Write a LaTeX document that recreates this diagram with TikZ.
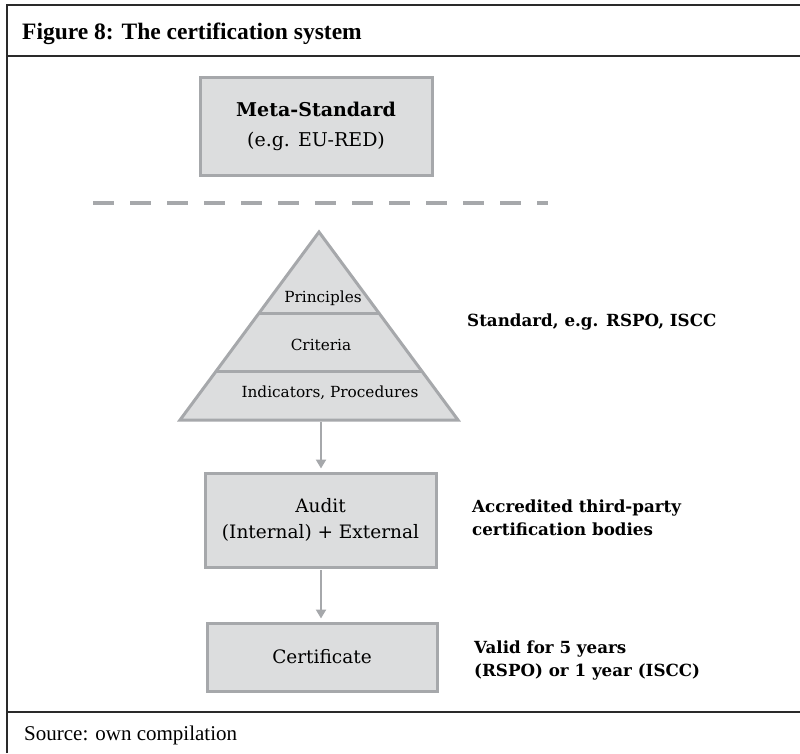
\documentclass[tikz,border=0pt]{standalone}
\usepackage{fontspec}
\setmainfont{DejaVu Serif}
\newfontfamily\timesf{Liberation Serif}
\usetikzlibrary{arrows.meta}
\definecolor{boxfill}{HTML}{DCDDDE}
\definecolor{boxline}{HTML}{A6A8AB}
\definecolor{frame}{HTML}{2A2A2A}
\tikzset{
  frameline/.style={draw=frame, line width=1.5pt},
  greybox/.style={draw=boxline, fill=boxfill, line width=3pt, align=center, inner sep=0pt},
  arr/.style={draw=boxline, line width=2.5pt, -{Triangle[length=9pt,width=10pt]}},
  lbl/.style={font=\fontsize{16.7}{23}\selectfont\bfseries, align=left, anchor=west, inner sep=0pt},
  pyr/.style={font=\fontsize{15.3}{18}\selectfont, inner sep=0pt},
}
\begin{document}
\begin{tikzpicture}[x=1pt,y=-1pt]
\useasboundingbox (0,0) rectangle (800,753);
% frame
\draw[frameline] (7,753) -- (7,5) -- (800,5);
\draw[frameline] (7,56) -- (800,56);
\draw[frameline] (7,712) -- (800,712);
\node[anchor=base west, inner sep=0pt, font=\timesf\fontsize{23.5}{26}\selectfont\bfseries] (title) at (22,39) {Figure 8: The certification system};
\node[anchor=base west, inner sep=0pt, font=\timesf\fontsize{21}{24}\selectfont] (source) at (24,740) {Source: own compilation};
% meta standard
\node[greybox, minimum width=232pt, minimum height=98pt, font=\fontsize{19}{30}\selectfont] (meta) at (316,126) {{\bfseries Meta-Standard}\\(e.g. EU-RED)};
% dashed line
\coordinate (dl) at (93,203);
\coordinate (dr) at (548,203);
\draw[draw=boxline, line width=4pt, dash pattern=on 21pt off 16pt] (dl) -- (dr);
% pyramid
\coordinate (apex) at (319,232);
\coordinate (bl) at (180,420);
\coordinate (br) at (458,420);
\coordinate (d1l) at (259.1,313);
\coordinate (d1r) at (378.9,313);
\coordinate (d2l) at (216.2,371);
\coordinate (d2r) at (421.8,371);
\draw[draw=boxline, fill=boxfill, line width=3pt, line join=miter] (apex) -- (br) -- (bl) -- cycle;
\draw[draw=boxline, line width=3pt] (d1l) -- (d1r);
\draw[draw=boxline, line width=3pt] (d2l) -- (d2r);
\node[pyr] (princ) at (323,298) {Principles};
\node[pyr] (crit) at (321,345) {Criteria};
\node[pyr] (ind) at (330,393) {Indicators, Procedures};
\coordinate (tb) at (321,420);
\node[lbl] (std) at (467,322) {Standard, e.g. RSPO, ISCC};
% audit
\node[greybox, minimum width=231pt, minimum height=94pt, font=\fontsize{18.5}{26}\selectfont] (audit) at (320.5,520) {Audit\\(Internal) + External};
\node[lbl] (acc) at (472,518) {Accredited third-party\\certification bodies};
% certificate
\node[greybox, minimum width=230pt, minimum height=68pt, font=\fontsize{18.5}{24}\selectfont] (cert) at (322,657) {Certificate};
\node[lbl] (valid) at (474,660) {Valid for 5 years\\(RSPO) or 1 year (ISCC)};
% arrows
\draw[arr, shorten <=1.5pt, shorten >=3pt] (tb) -- (tb |- audit.north);
\draw[arr, shorten <=1.5pt, shorten >=3pt] (audit.south -| tb) -- (cert.north -| tb);
\end{tikzpicture}
\end{document}
